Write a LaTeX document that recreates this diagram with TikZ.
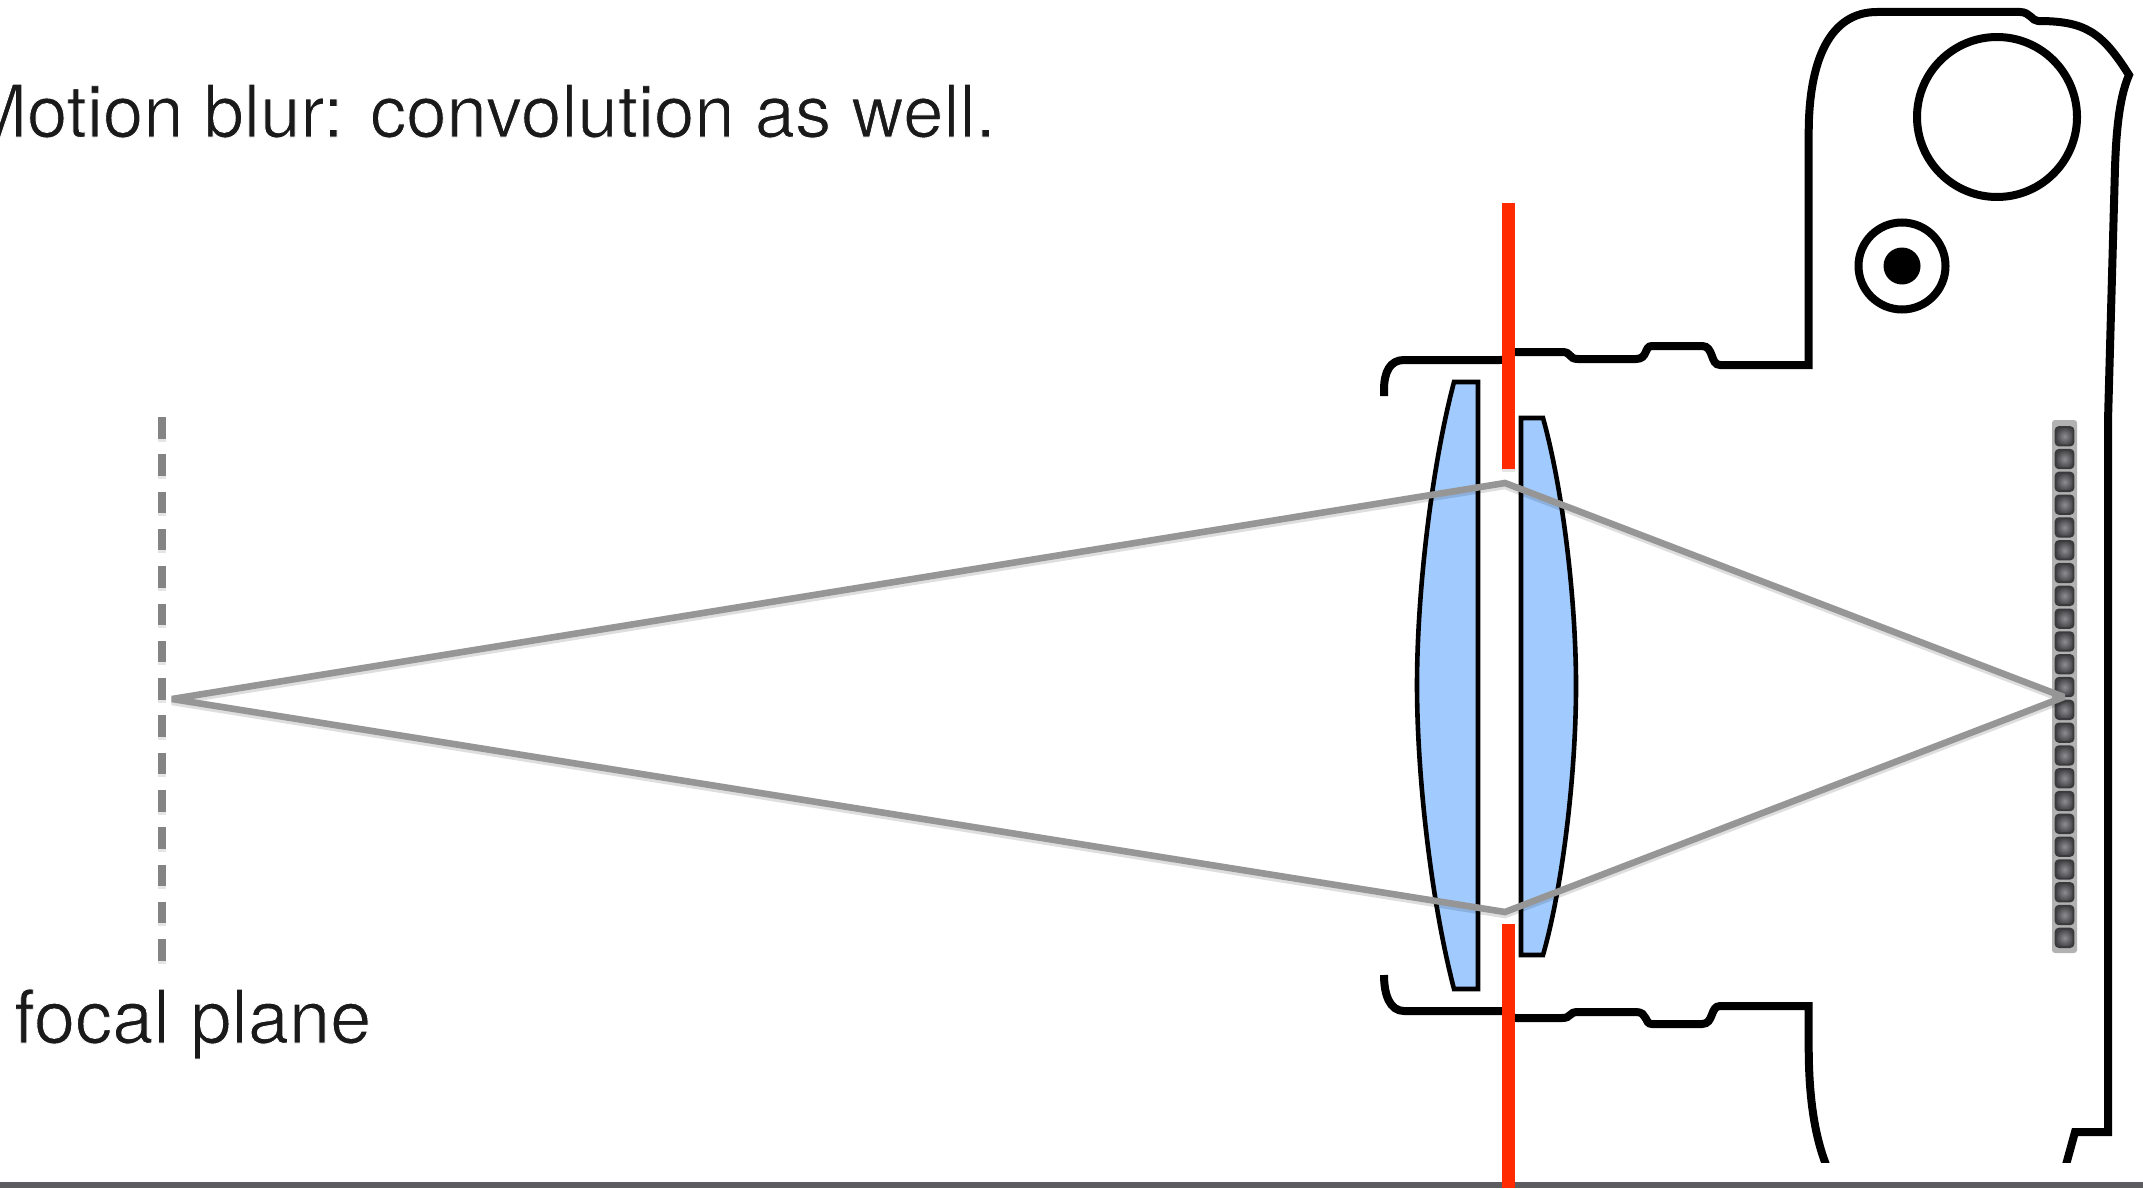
\documentclass[tikz,border=0pt]{standalone}
\usepackage{fontspec}
\setmainfont{TeX Gyre Heros}
\definecolor{raygray}{HTML}{969696}
\definecolor{dashgray}{HTML}{848484}
\definecolor{lensblue}{HTML}{A1CBFE}
\definecolor{stopred}{HTML}{FF2A00}
\definecolor{barcol}{HTML}{5C5C60}
\definecolor{inktext}{HTML}{1A1A1A}
\definecolor{cellout}{HTML}{3A3A3D}
\definecolor{cellin}{HTML}{8E8E92}
\newcommand{\thintext}[1]{\special{pdf:code 2 Tr 0.9 w 1 1 1 RG}#1\special{pdf:code 0 Tr}}
\tikzset{
  body/.style={draw=black,line width=8pt,line cap=butt,line join=miter},
  lensshape/.style={draw=black,fill=lensblue,line width=4.6pt,line join=miter},
  ray/.style={draw=raygray,line width=6.6pt,line join=miter,miter limit=2.5},
  rayshadow/.style={draw=black,opacity=.13,line width=6.6pt,line join=miter,miter limit=2.5},
  stopline/.style={draw=stopred,line width=13pt},
  stopshadow/.style={draw=black,opacity=.10,line width=13pt},
  planeline/.style={draw=dashgray,line width=7.2pt,dash pattern=on 21.5pt off 15.8pt},
  cell/.style={rounded corners=3.5pt,draw=cellout,line width=1.8pt,inner color=cellin,outer color=cellout!90!cellin},
  label/.style={inner sep=0pt,text=inktext},
}
\begin{document}
\begin{tikzpicture}[x=1pt,y=-1pt]
\useasboundingbox (0,0) rectangle (2143,1188);
\clip (0,0) rectangle (2143,1188);
\fill[white] (0,0) rectangle (2143,1188);
% lenses
\draw[lensshape] (1454,382) .. controls (1432,465) and (1417,590) .. (1417,685)
  .. controls (1417,780) and (1432,905) .. (1454,989) -- (1478,989) -- (1478,382) -- cycle;
\draw[lensshape] (1543,418) .. controls (1563,490) and (1576,600) .. (1576,686)
  .. controls (1576,772) and (1563,885) .. (1543,955) -- (1521,955) -- (1521,418) -- cycle;
% camera body
\begin{scope}
\clip (1300,0) rectangle (2143,1162);
\draw[body] (1384,396) -- (1384,390) .. controls (1384,372) and (1390,360) .. (1404,360) -- (1500,360)
  .. controls (1510,360) and (1508,352) .. (1516,352) -- (1562,352)
  .. controls (1572,352) and (1568,359) .. (1578,359) -- (1636,359)
  .. controls (1648,359) and (1644,346) .. (1652,346) -- (1702,346)
  .. controls (1714,346) and (1710,365) .. (1720,365) -- (1808.7,365) -- (1808.7,133)
  .. controls (1808.7,60) and (1830,12) .. (1877,12) -- (2020,12)
  .. controls (2030,12) and (2032,21) .. (2038,21)
  .. controls (2085,21) and (2102,32) .. (2129,75)
  .. controls (2118,100) and (2116,140) .. (2115,167)
  -- (2108,420) -- (2108,1132) -- (2075,1132) -- (2064,1172);
\draw[body] (1384,975) .. controls (1384,995) and (1390,1011) .. (1404,1011) -- (1500,1011)
  .. controls (1510,1011) and (1508,1018) .. (1516,1018) -- (1562,1018)
  .. controls (1572,1018) and (1568,1012) .. (1578,1012) -- (1636,1012)
  .. controls (1648,1012) and (1644,1024) .. (1652,1024) -- (1702,1024)
  .. controls (1714,1024) and (1710,1006) .. (1720,1006) -- (1808.7,1006) -- (1808.7,1050)
  .. controls (1809,1100) and (1815,1140) .. (1829,1172);
\end{scope}
\node[circle,draw=black,line width=8pt,minimum size=160pt,inner sep=0pt] (viewfinder) at (1997,117) {};
\node[circle,draw=black,line width=8pt,minimum size=87pt,inner sep=0pt] (dial) at (1902,266) {};
\node[circle,fill=black,minimum size=37pt,inner sep=0pt] (dialdot) at (1902,266) {};
% focal plane
\coordinate (planetop) at (162,417);
\coordinate (planebot) at (162,961);
\draw[draw=black,opacity=.10,line width=7.2pt,dash pattern=on 21.5pt off 15.8pt] ([yshift=-3pt]planetop) -- ([yshift=-3pt]planebot);
\draw[planeline] (planetop) -- (planebot);
% sensor
\fill[fill=black!30,rounded corners=3pt] (2052,420) rectangle (2077,953);
\foreach \i in {0,...,22}{
  \path[cell] (2055.5,427+\i*22.8) rectangle (2073.5,445.5+\i*22.8);
}
% rays
\coordinate (src) at (172,699);
\coordinate (apextop) at (1505,483);
\coordinate (apexbot) at (1505,912);
\coordinate (img) at (2064,697);
\draw[rayshadow] ([yshift=-3pt]src) -- ([yshift=-3pt]apextop) -- ([yshift=-3pt]img) -- ([yshift=-3pt]apexbot) -- cycle;
\draw[ray] (src) -- (apextop) -- (img) -- (apexbot) -- cycle;
% bottom bar and aperture stop
\fill[barcol] (0,1182) rectangle (2143,1188);
\coordinate (stopAtop) at (1508,203);
\coordinate (stopAbot) at (1508,469);
\coordinate (stopBtop) at (1508,924);
\coordinate (stopBbot) at (1508,1188);
\draw[stopshadow] ([yshift=-3pt]stopAtop) -- ([yshift=-3pt]stopAbot);
\draw[stopline] (stopAtop) -- (stopAbot);
\draw[stopline] (stopBtop) -- (stopBbot);
% texts
\node[label,font=\fontsize{72.5}{80}\selectfont,anchor=base east] (motion) at (996,137) {\thintext{Motion blur: convolution as well.}};
\node[label,font=\fontsize{74}{80}\selectfont,anchor=base west] (focal) at (14,1043) {\thintext{focal plane}};
\end{tikzpicture}
\end{document}
